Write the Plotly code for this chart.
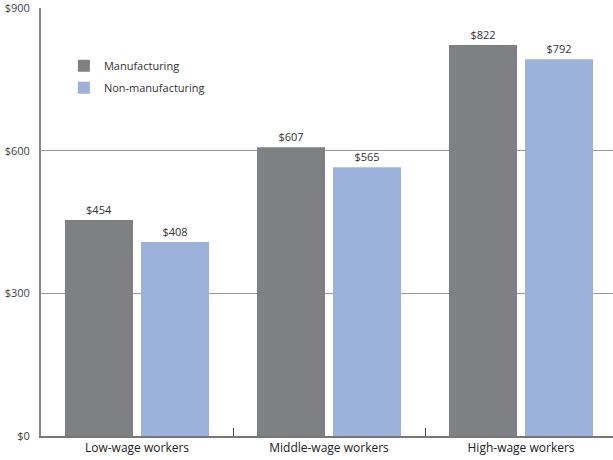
import plotly.graph_objects as go

categories = ["Low-wage workers", "Middle-wage workers", "High-wage workers"]
manufacturing = [454, 607, 822]
non_manufacturing = [408, 565, 792]
series_names = ["Manufacturing", "Non-manufacturing"]
y_ticks = [0, 300, 600, 900]
y_tick_labels = ["$0", "$300", "$600", "$900"]

FONT = "Open Sans"
GREY = "#7f8082"
BLUE = "#9db2da"

fig = go.Figure()
for name, vals, col in [(series_names[0], manufacturing, GREY),
                        (series_names[1], non_manufacturing, BLUE)]:
    fig.add_trace(go.Bar(
        x=categories, y=vals, name=name, legendgroup=name,
        marker=dict(color=col, line=dict(width=0)),
        text=["$%d" % v for v in vals], textposition="outside",
        textfont=dict(family=FONT, size=11, color="#333"),
        cliponaxis=False,
    ))

fig.update_layout(
    width=613, height=460,
    margin=dict(l=41, r=0, t=8, b=24),
    paper_bgcolor="white", plot_bgcolor="white",
    barmode="group", bargap=0.208, bargroupgap=0.105,
    showlegend=True,
    legend=dict(x=0.04, y=0.899, xanchor="left", yanchor="top",
                font=dict(family=FONT, size=11, color="#333"),
                bgcolor="rgba(0,0,0,0)", itemwidth=30, tracegroupgap=3),
    font=dict(family=FONT, size=11, color="#333"),
    xaxis=dict(range=[-0.5, 2.479], showline=True, linecolor="#777", linewidth=1.5,
               ticks="inside", tickson="boundaries", ticklen=8, tickcolor="#444",
               tickfont=dict(family=FONT, size=12, color="#222"),
               showgrid=False),
    yaxis=dict(range=[0, 900], tickvals=y_ticks, ticktext=y_tick_labels,
               showline=True, linecolor="#888", linewidth=2,
               showgrid=True, gridcolor="#999", gridwidth=1,
               zeroline=False, ticks="", ticklabelstandoff=7,
               ticklabeloverflow="allow",
               tickfont=dict(family=FONT, size=11, color="#444")),
)

fig.write_html("out.html")
